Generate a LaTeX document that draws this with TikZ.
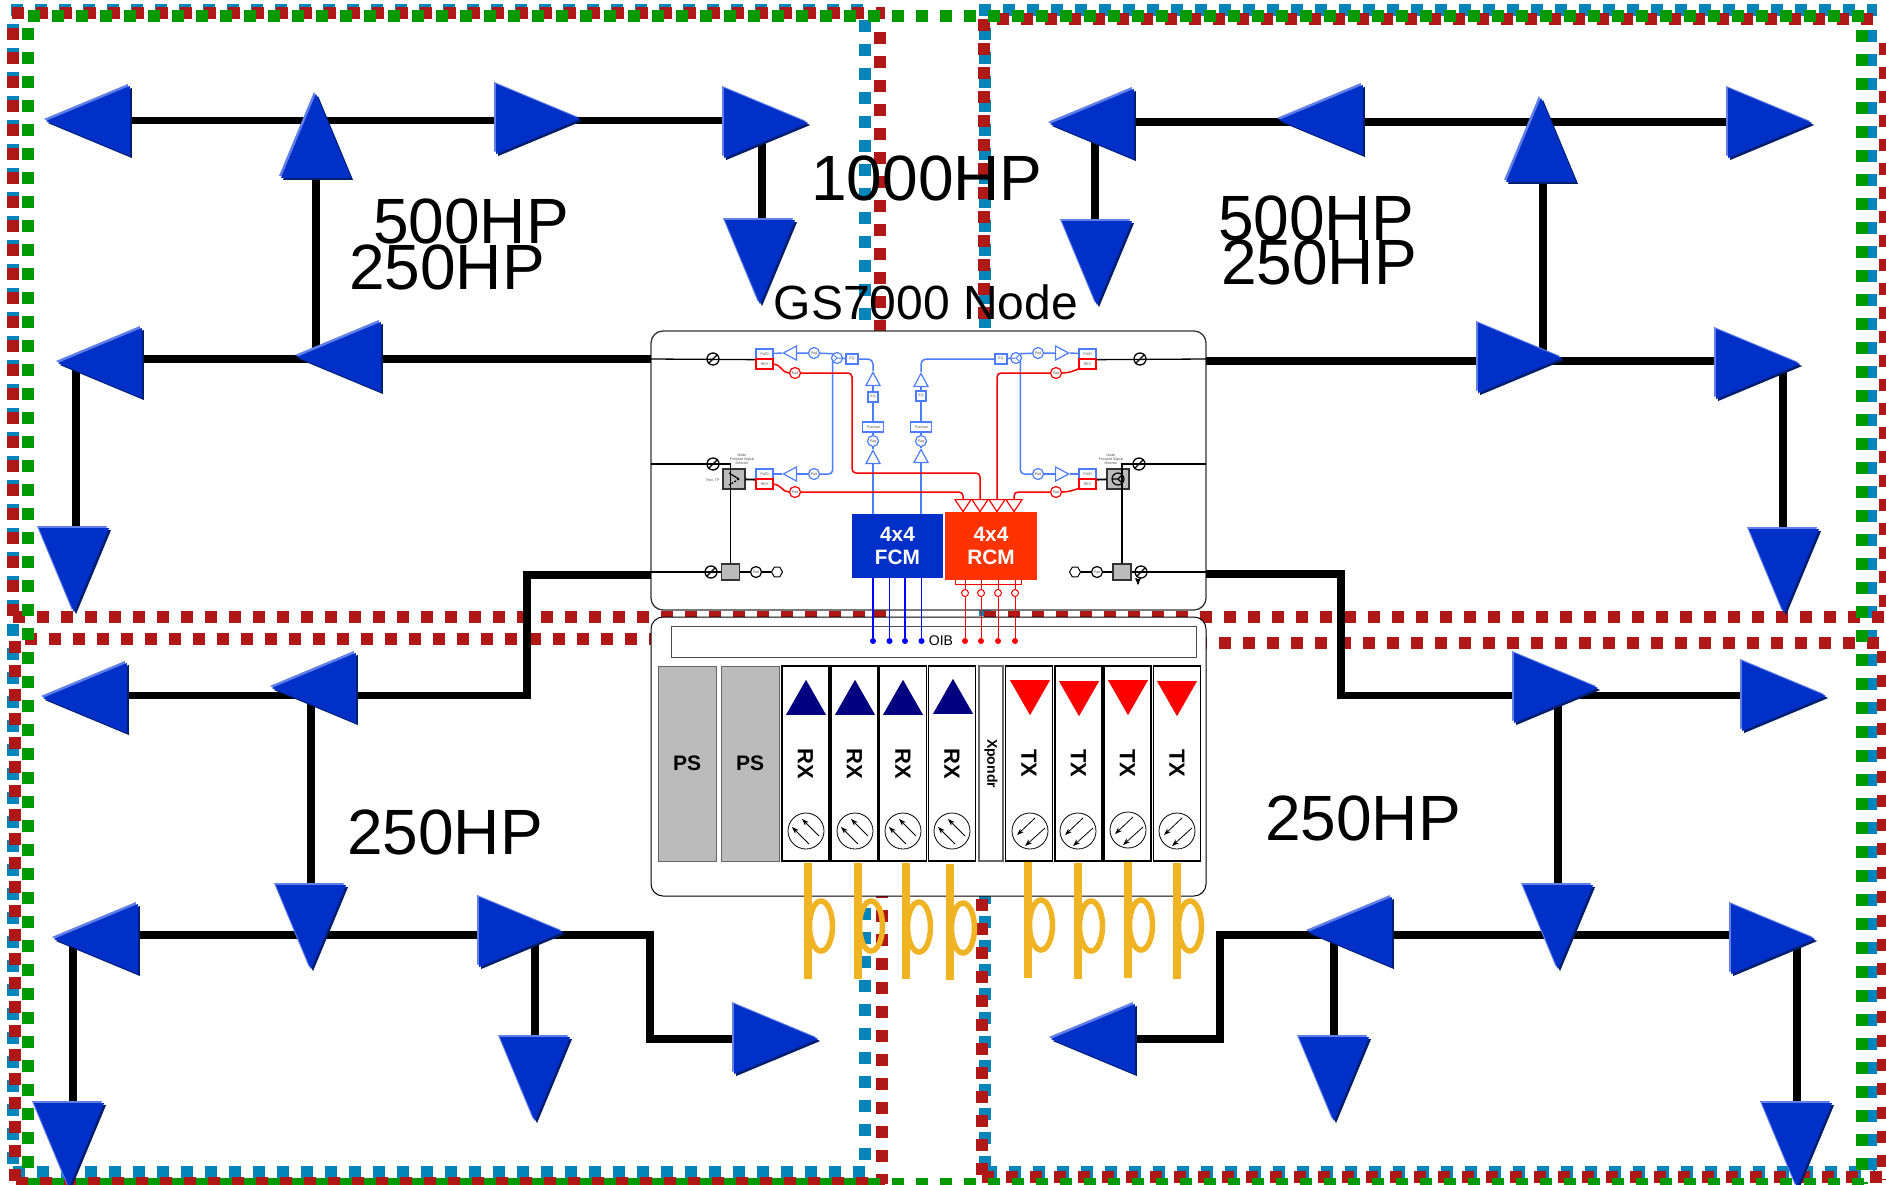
\documentclass[tikz,border=0pt]{standalone}
\usepackage{xcolor}
\usepackage{fontspec}
\setmainfont{Liberation Sans}
\usetikzlibrary{arrows,arrows.meta,shapes.geometric,shadows}
\definecolor{ampblue}{RGB}{0,48,200}
\definecolor{amplight}{RGB}{96,128,232}
\definecolor{ampdark}{RGB}{0,30,110}
\definecolor{dashred}{RGB}{176,24,24}
\definecolor{dashblue}{RGB}{0,133,186}
\definecolor{dashgreen}{RGB}{0,153,0}
\definecolor{wireblue}{RGB}{77,125,255}
\definecolor{rcmred}{RGB}{255,51,0}
\definecolor{cardgray}{RGB}{187,187,187}
\definecolor{coilgold}{RGB}{240,179,35}
\definecolor{navyband}{RGB}{0,0,128}
\pgfdeclarelayer{background}
\pgfdeclarelayer{wires}
\pgfsetlayers{background,wires,main}

\begin{document}
\begin{tikzpicture}[x=1pt,y=-1pt,>=stealth',
  redrow/.style={draw=dashred,line width=12pt,dash pattern=on 12pt off 12pt},
  bluerow/.style={draw=dashblue,line width=12pt,dash pattern=on 12pt off 12pt},
  greenrow/.style={draw=dashgreen,line width=12pt,dash pattern=on 12pt off 12pt},
  trunk/.style={line width=7.5pt,black},
  bigamp/.style={isosceles triangle,isosceles triangle stretches,inner sep=0pt,anchor=lower side,
    minimum width=70pt,minimum height=84pt,fill=ampblue,shape border rotate=#1,
    general shadow={fill=ampdark,shadow xshift=2pt,shadow yshift=-2pt},
    general shadow={fill=amplight,shadow xshift=-2pt,shadow yshift=2pt}},
  bigtext/.style={font=\fontsize{64}{64}\selectfont,inner sep=0pt},
  chassis/.style={draw=black!80,fill=white,line width=1.3pt,rounded corners=12pt,minimum width=555pt,minimum height=279pt},
  awire/.style={black,line width=1.3pt},
  bwire/.style={wireblue,line width=1.5pt},
  rwire/.style={red,line width=1.5pt},
  smalltxt/.style={font=\fontsize{3.6}{4.2}\selectfont,text=black!70,inner sep=0pt},
  fwdbox/.style={smalltxt,draw=wireblue,fill=white,line width=1.3pt,minimum width=17pt,minimum height=10pt},
  revbox/.style={smalltxt,draw=red,fill=white,line width=1.3pt,minimum width=17pt,minimum height=10pt},
  eqbox/.style={fwdbox,minimum width=#1},
  pad/.style={smalltxt,circle,draw=wireblue,fill=white,line width=1.2pt,minimum size=11pt},
  redpad/.style={pad,draw=red},
  blackpad/.style={pad,draw=black},
  hexcap/.style={regular polygon,regular polygon sides=6,draw=black,fill=white,line width=1pt,inner sep=0pt,minimum size=11pt},
  plug/.style={circle,draw=black,line width=1.3pt,inner sep=0pt,minimum size=12pt,
    path picture={\draw[black,line width=1.3pt] (path picture bounding box.south west) -- (path picture bounding box.north east);}},
  tapl/.style={circle,draw=wireblue,fill=white,line width=1.2pt,inner sep=0pt,minimum size=11pt,
    path picture={\draw[wireblue,line width=1pt] (path picture bounding box.center) -- (path picture bounding box.east)
      (path picture bounding box.center) -- (path picture bounding box.north west)
      (path picture bounding box.center) -- (path picture bounding box.south west);}},
  tapr/.style={circle,draw=wireblue,fill=white,line width=1.2pt,inner sep=0pt,minimum size=11pt,
    path picture={\draw[wireblue,line width=1pt] (path picture bounding box.center) -- (path picture bounding box.west)
      (path picture bounding box.center) -- (path picture bounding box.north east)
      (path picture bounding box.center) -- (path picture bounding box.south east);}},
  tapblack/.style={circle,draw=black,line width=1.2pt,inner sep=0pt,minimum size=12pt,
    path picture={\draw[black,line width=1.1pt] (path picture bounding box.center) -- (path picture bounding box.west)
      (path picture bounding box.center) -- (path picture bounding box.north east)
      (path picture bounding box.center) -- (path picture bounding box.south east);}},
  tinyamp/.style={isosceles triangle,isosceles triangle stretches,inner sep=0pt,anchor=lower side,
    minimum width=14pt,minimum height=13pt,draw=wireblue,fill=white,line width=1.2pt,shape border rotate=#1},
  redamp/.style={tinyamp=#1,draw=red,minimum width=16pt,minimum height=12pt},
  grayfill/.style={draw=black!80,fill=cardgray,line width=1.2pt,inner sep=0pt},
  switchbox/.style={grayfill,
    path picture={\draw[black,line width=1.2pt] ([shift={(-5,-6)}]path picture bounding box.center) -- ([shift={(5,0)}]path picture bounding box.center);
      \draw[black,line width=1.2pt,dashed,dash pattern=on 2pt off 1.5pt] ([shift={(5,0)}]path picture bounding box.center) -- ([shift={(-5,6)}]path picture bounding box.center);}},
  module/.style={font=\fontsize{20.8}{23}\selectfont\bfseries,text=white,align=center,inner sep=0pt},
  oibdot/.style={circle,inner sep=0pt,minimum size=6pt,fill=#1},
  redring/.style={circle,draw=red,fill=white,line width=1pt,inner sep=0pt,minimum size=7pt},
  psbox/.style={draw=black!60,fill=cardgray,line width=1pt,minimum width=58pt,minimum height=195pt,
    font=\fontsize{21}{21}\selectfont\bfseries,inner sep=0pt},
  card/.style={draw=black,fill=white,line width=1.2pt,rotate=-90,minimum width=195pt,minimum height=47pt,
    font=\fontsize{22}{22}\selectfont\bfseries,inner sep=0pt},
  band/.style={isosceles triangle,isosceles triangle stretches,inner sep=0pt,anchor=lower side,
    minimum width=40pt,minimum height=35pt,shape border rotate=#1},
  dialrx/.style={circle,draw=black,fill=white,line width=0.8pt,inner sep=0pt,minimum size=36pt,
    path picture={\draw[-{Stealth[length=7pt,width=5pt]},black,line width=0.8pt] ([shift={(3,13)}]path picture bounding box.center) -- ([shift={(-14,-4)}]path picture bounding box.center);
      \draw[-{Stealth[length=7pt,width=5pt]},black,line width=0.8pt] ([shift={(13,5)}]path picture bounding box.center) -- ([shift={(-4,-12)}]path picture bounding box.center);}},
  dialtx/.style={circle,draw=black,fill=white,line width=0.8pt,inner sep=0pt,minimum size=36pt,
    path picture={\draw[-{Stealth[length=7pt,width=5pt]},black,line width=0.8pt] ([shift={(5,-13)}]path picture bounding box.center) -- ([shift={(-13,4)}]path picture bounding box.center);
      \draw[-{Stealth[length=7pt,width=5pt]},black,line width=0.8pt] ([shift={(15,-3)}]path picture bounding box.center) -- ([shift={(-5,15)}]path picture bounding box.center);}},
  coil/.style={draw=coilgold,line width=8pt},
  coilring/.style={draw=coilgold,line width=5.5pt}]
  \useasboundingbox (0,0) rectangle (1886,1184);

  % square dashes, left half
  \begin{pgfonlayer}{background}
  \draw[bluerow] (13,24) -- (13,1170);
  \draw[bluerow] (11,10) -- (870,10);
  \draw[bluerow] (865,20) -- (865,1170);
  \draw[bluerow] (13,1172) -- (870,1172);
  % right half
  \draw[bluerow] (985,28) -- (985,1170);
  \draw[bluerow] (979,10) -- (1877,10);
  \draw[bluerow] (1871,30) -- (1871,1170);
  \draw[bluerow] (985,1172) -- (1875,1172);
  \draw[redrow] (13,28) -- (13,617);
  \draw[redrow] (12,13) -- (885,13);
  \draw[redrow] (880,32) -- (880,617);
  \draw[redrow] (13,617) -- (885,617);
  \draw[redrow] (25,639) -- (885,639);
  \draw[redrow] (15,641) -- (15,1184);
  \draw[redrow] (882,646) -- (882,1184);
  \draw[redrow] (984,19) -- (984,617);
  \draw[redrow] (997,19) -- (1875,19);
  \draw[redrow] (1885,43) -- (1885,617);
  \draw[redrow] (984,617) -- (1884,617);
  \draw[redrow] (979,643) -- (1880,643);
  \draw[redrow] (982,659) -- (982,1180);
  \draw[redrow] (1883,651) -- (1883,1180);
  \draw[redrow] (982,1177) -- (1882,1177);
  \draw[greenrow] (28,16) -- (1868,16);
  \draw[greenrow] (28,28) -- (28,1184);
  \draw[greenrow] (1862,30) -- (1862,1184);
  \draw[greenrow] (28,1184) -- (1868,1184);
  \draw[redrow] (16,1183) -- (885,1183);

  \node[chassis] (gsUpper) at (928.5,470.5) {};
  \node[chassis,draw=black,line width=1pt] (gsLower) at (928.5,756.5) {};
  \node[draw=black!70,fill=white,line width=1pt,minimum width=525pt,minimum height=31pt,inner sep=0pt] (oib) at (933.5,641.5) {};
  \node[switchbox,minimum width=22pt,minimum height=20pt] (swA) at (734,479) {};
  \node[grayfill,minimum width=22pt,minimum height=20pt] (swB) at (1118,479) {};
  \end{pgfonlayer}

  % amplifiers of the four areas
  \node[bigamp=180] (A1) at (130,121) {};
  \node[bigamp=90]  (A2) at (316,178) {};
  \node[bigamp=0]   (A3) at (496,119) {};
  \node[bigamp=0]   (A4) at (724,123) {};
  \node[bigamp=270] (A5) at (760,220) {};
  \node[bigamp=180] (A6) at (381,357) {};
  \node[bigamp=180] (A7) at (142,363) {};
  \node[bigamp=270] (A8) at (74,528) {};

  \node[bigamp=180] (B1) at (1134,124) {};
  \node[bigamp=180] (B2) at (1363,120) {};
  \node[bigamp=90]  (B3) at (1541,182) {};
  \node[bigamp=0]   (B4) at (1728,123) {};
  \node[bigamp=270] (B5) at (1097,221) {};
  \node[bigamp=0]   (B6) at (1478,358) {};
  \node[bigamp=0]   (B7) at (1716,364) {};
  \node[bigamp=270] (B8) at (1784,529) {};

  \node[bigamp=180] (C1) at (127,698) {};
  \node[bigamp=180] (C2) at (356,688) {};
  \node[bigamp=270] (C3) at (311,885) {};
  \node[bigamp=180] (C4) at (138,939) {};
  \node[bigamp=0]   (C5) at (479,932) {};
  \node[bigamp=0]   (C6) at (734,1039) {};
  \node[bigamp=270] (C7) at (535,1037) {};
  \node[bigamp=270] (C8) at (69,1103) {};

  \node[bigamp=0]   (D1) at (1514,688) {};
  \node[bigamp=0]   (D2) at (1742,696) {};
  \node[bigamp=270] (D3) at (1558,885) {};
  \node[bigamp=180] (D4) at (1392,932) {};
  \node[bigamp=0]   (D5) at (1731,939) {};
  \node[bigamp=180] (D6) at (1135,1039) {};
  \node[bigamp=270] (D7) at (1334,1037) {};
  \node[bigamp=270] (D8) at (1797,1103) {};

  \node[bigtext] (hpTall) at (927,178) {1000HP};
  \node[bigtext] (hpA) at (471,221) {500HP};
  \node[bigtext] (hpB) at (447,267) {250HP};
  \node[bigtext] (hpC) at (1316,218) {500HP};
  \node[bigtext] (hpD) at (1319,262) {250HP};
  \node[bigtext] (hpE) at (445,832) {250HP};
  \node[bigtext] (hpF) at (1363,818) {250HP};
  \node[font=\fontsize{48}{48}\selectfont,inner sep=0pt] (gsName) at (926,302) {GS7000 Node};

  % junction points on the trunks
  \coordinate (stubNW) at (651,359);
  \coordinate (stubNE) at (1206,361);
  \coordinate (stubSW) at (651,575);
  \coordinate (stubSE) at (1206,574);
  \coordinate (railA) at (400,120.5);
  \coordinate (railB) at (1400,122);
  \coordinate (railC) at (527,695.5);
  \coordinate (railD) at (1341,695.5);
  \coordinate (railE) at (650,935);
  \coordinate (railF) at (1220,935);

  % forward and return modules
  \node[module,fill=ampblue,minimum width=91pt,minimum height=64pt] (fcm) at (897.5,546) {4x4\\FCM};
  \node[module,fill=rcmred,minimum width=92pt,minimum height=68pt] (rcm) at (991,546) {4x4\\RCM};

  \node[fwdbox] (fwdA) at (764.5,354) {FWD};
  \node[revbox] (revA) at (764.5,364) {REV};
  \node[fwdbox] (fwdB) at (764.5,474) {FWD};
  \node[revbox] (revB) at (764.5,484) {REV};
  \node[fwdbox] (fwdC) at (1087.5,354) {FWD};
  \node[revbox] (revC) at (1087.5,364) {REV};
  \node[fwdbox] (fwdD) at (1087.5,474) {FWD};
  \node[revbox] (revD) at (1087.5,484) {REV};

  \node[tinyamp=180] (triA) at (797,353) {};
  \node[tinyamp=180] (triB) at (797,474) {};
  \node[tinyamp=0]   (triG) at (1055,353) {};
  \node[tinyamp=0]   (triH) at (1055,474) {};
  \node[pad] (padA) at (814,353) {Pad};
  \node[pad] (padB) at (814,474) {Pad};
  \node[pad] (padC) at (1038,353) {Pad};
  \node[pad] (padD) at (1038,474) {Pad};
  \node[redpad] (padRa) at (795,373) {Pad};
  \node[redpad] (padRb) at (795,492) {Pad};
  \node[redpad] (padRc) at (1056,373) {Pad};
  \node[redpad] (padRd) at (1056,492) {Pad};
  \node[tapl] (tapA) at (837,358) {};
  \node[tapr] (tapC) at (1016,358) {};
  \node[tapblack] (tapE) at (1118,479) {};
  \node[eqbox=12pt] (eqA) at (852,359) {EQ};
  \node[eqbox=12pt] (eqD) at (1001,359) {EQ};

  \node[tinyamp=90] (triC) at (873,386) {};
  \node[eqbox=10pt] (eqB) at (873,397) {EQ};
  \node[eqbox=21pt] (thermA) at (873,427) {Thermal};
  \node[pad] (padT) at (873,441) {Pad};
  \node[tinyamp=90] (triD) at (873,464) {};
  \node[tinyamp=90] (triF) at (921,387) {};
  \node[eqbox=10pt] (eqC) at (921,396) {EQ};
  \node[eqbox=21pt] (thermB) at (921,427) {Thermal};
  \node[pad] (padU) at (921,441) {Pad};
  \node[tinyamp=90] (triE) at (921,463) {};

  \node[redamp=270] (triR1) at (963,499) {};
  \node[redamp=270] (triR2) at (980,499) {};
  \node[redamp=270] (triR3) at (997,499) {};
  \node[redamp=270] (triR4) at (1014,499) {};

  \coordinate (sideAa) at (651,464);
  \coordinate (sideAb) at (651,572);
  \coordinate (sideBa) at (1206,464);
  \coordinate (sideBb) at (1206,572);
  \coordinate (sideBc) at (1206,359);
  \coordinate (sideAc) at (651,359);
  \node[plug] (plugA) at (713,359) {};
  \node[plug] (plugB) at (713,464) {};
  \node[plug] (plugC) at (711,572) {};
  \node[plug] (plugD) at (1140,359) {};
  \node[plug] (plugE) at (1139,464) {};
  \node[plug] (plugF) at (1141,572) {};
  \node[grayfill,minimum width=18pt,minimum height=16pt] (smallA) at (730.5,572) {};
  \node[grayfill,minimum width=18pt,minimum height=16pt] (smallB) at (1122,572) {};
  \node[blackpad] (padE) at (756,572) {Pad};
  \node[blackpad] (padF) at (1097,572) {Pad};
  \node[hexcap] (hexA) at (777,572) {};
  \node[hexcap] (hexB) at (1075,572) {};
  \node[smalltxt,align=center] (dirA) at (742,459) {Node\\Forward Signal\\Director};
  \node[smalltxt,align=center] (dirB) at (1111,459) {Node\\Forward Signal\\Director};
  \node[smalltxt] (revTP) at (713,480) {Rev. TP};

  % OIB and cards
  \node[font=\fontsize{14}{14}\selectfont,inner sep=0pt] (oibName) at (941,641) {OIB};
  \node[oibdot=blue] (dotB1) at (873,641) {};
  \node[oibdot=blue] (dotB2) at (889.5,641) {};
  \node[oibdot=blue] (dotB3) at (905,641) {};
  \node[oibdot=blue] (dotB4) at (921.5,641) {};
  \node[oibdot=red] (dotR1) at (965,641) {};
  \node[oibdot=red] (dotR2) at (981,641) {};
  \node[oibdot=red] (dotR3) at (998,641) {};
  \node[oibdot=red] (dotR4) at (1015,641) {};
  \node[redring] (ringR1) at (965,593) {};
  \node[redring] (ringR2) at (981,593) {};
  \node[redring] (ringR3) at (998,593) {};
  \node[redring] (ringR4) at (1015,593) {};
  \coordinate (busL) at (955,584);
  \coordinate (busR) at (1021,584);

  \node[psbox] (psA) at (687,763.5) {PS};
  \node[psbox] (psB) at (750,763.5) {PS};
  \node[card] (rxA) at (805.5,763.5) {RX};
  \node[card] (rxB) at (854.5,763.5) {RX};
  \node[card] (rxC) at (903,763.5) {RX};
  \node[card] (rxD) at (952,763.5) {RX};
  \node[card,draw=black!60,minimum height=24pt,font=\fontsize{14}{14}\selectfont\bfseries] (xpondr) at (991,763.5) {Xpondr};
  \node[card] (txA) at (1029,763.5) {TX};
  \node[card] (txB) at (1078.5,763.5) {TX};
  \node[card] (txC) at (1127.5,763.5) {TX};
  \node[card] (txD) at (1177,763.5) {TX};

  \node[band=90,fill=navyband] (bandA) at (806,715) {};
  \node[band=90,fill=navyband] (bandB) at (855,715) {};
  \node[band=90,fill=navyband] (bandC) at (903,715) {};
  \node[band=90,fill=navyband] (bandD) at (953,714) {};
  \node[band=270,fill=red] (bandE) at (1030,680) {};
  \node[band=270,fill=red] (bandF) at (1079,681) {};
  \node[band=270,fill=red] (bandG) at (1128,680) {};
  \node[band=270,fill=red] (bandH) at (1177,681) {};

  \node[dialrx] (dialA) at (806,831) {};
  \node[dialrx] (dialB) at (855,831) {};
  \node[dialrx] (dialC) at (903,831) {};
  \node[dialrx] (dialD) at (952,831) {};
  \node[dialtx] (dialE) at (1030,831) {};
  \node[dialtx] (dialF) at (1078,831) {};
  \node[dialtx] (dialG) at (1128,830) {};
  \node[dialtx] (dialH) at (1177,831) {};

  \draw[coil] (808,863) -- (808,979);
  \draw[coil] (858,863) -- (858,979);
  \draw[coil] (906,863) -- (906,979);
  \draw[coil] (950,864) -- (950,980);
  \draw[coil] (1028,862) -- (1028,978);
  \draw[coil] (1078,863) -- (1078,979);
  \draw[coil] (1128,862) -- (1128,978);
  \draw[coil] (1177,863) -- (1177,979);
  \draw[coilring] (821,926) ellipse [x radius=11.5,y radius=25];
  \draw[coilring] (871,926) ellipse [x radius=11.5,y radius=25];
  \draw[coilring] (919,927) ellipse [x radius=11.5,y radius=25];
  \draw[coilring] (963,928) ellipse [x radius=11.5,y radius=25];
  \draw[coilring] (1041,925) ellipse [x radius=11.5,y radius=25];
  \draw[coilring] (1091,926) ellipse [x radius=11.5,y radius=25];
  \draw[coilring] (1141,925) ellipse [x radius=11.5,y radius=25];
  \draw[coilring] (1190,926) ellipse [x radius=11.5,y radius=25];

  \begin{pgfonlayer}{wires}
  % trunks
  \draw[trunk] (A1.lower side |- railA) -- (A4.lower side |- railA);
  \draw[trunk] (A2.lower side) -- (A2.lower side |- stubNW);
  \draw[trunk] ([xshift=2pt]A5.lower side) -- ([xshift=2pt]A5.lower side |- railA);
  \draw[trunk] (stubNW) -- (stubNW -| A7.lower side);
  \draw[trunk] ([xshift=2pt]A8.lower side) -- ([xshift=2pt]A8.lower side |- stubNW);

  \draw[trunk] (B1.lower side |- railB) -- (B4.lower side |- railB);
  \draw[trunk] ([xshift=-2pt]B5.lower side) -- ([xshift=-2pt]B5.lower side |- railB);
  \draw[trunk] ([xshift=2pt]B3.lower side) -- ([xshift=2pt]B3.lower side |- stubNE);
  \draw[trunk] (stubNE) -- (stubNE -| B7.lower side);
  \draw[trunk] ([xshift=-1pt]B8.lower side) -- ([xshift=-1pt]B8.lower side |- stubNE);

  \draw[trunk] (stubSW) -| (railC) -- (railC -| C1.lower side);
  \draw[trunk] (C3.lower side) -- (C3.lower side |- railC);
  \draw[trunk] (C4.lower side |- railE) -- (railE) |- (C6.lower side);
  \draw[trunk] (C7.lower side) -- (C7.lower side |- railE);
  \draw[trunk] ([xshift=4pt]C8.lower side) -- ([xshift=4pt]C8.lower side |- railE);

  \draw[trunk] (stubSE) -| (railD) -- (railD -| D2.lower side);
  \draw[trunk] (D3.lower side) -- (D3.lower side |- railD);
  \draw[trunk] (D5.lower side |- railF) -- (railF) |- (D6.lower side);
  \draw[trunk] (D7.lower side) -- (D7.lower side |- railF);
  \draw[trunk] (D8.lower side) -- (D8.lower side |- railF);

  % forward path
  \draw[bwire] (fwdA) -- (triA.apex) (triA.lower side) -- (padA) (padA) -- (tapA.north west);
  \draw[bwire] (fwdB) -- (triB.apex) (triB.lower side) -- (padB);
  \draw[bwire,rounded corners=4pt] (tapA.north west) |- (padB);
  \draw[bwire] (tapA) -- (eqA);
  \draw[bwire,rounded corners=5pt] (eqA) -| (triC.apex);
  \draw[bwire] (triC.lower side) -- (eqB) (eqB) -- (thermA) (thermA) -- (padT) (padT) -- (triD.apex);
  \draw[bwire] (triD.lower side) -- (triD.lower side |- fcm.north);
  \draw[bwire] (fwdC) -- (triG.apex) (triG.lower side) -- (padC) (padC) -- (tapC.north east);
  \draw[bwire] (fwdD) -- (triH.apex) (triH.lower side) -- (padD);
  \draw[bwire,rounded corners=4pt] (tapC.north east) |- (padD);
  \draw[bwire] (tapC) -- (eqD);
  \draw[bwire,rounded corners=5pt] (eqD) -| (triF.apex);
  \draw[bwire] (triF.lower side) -- (eqC) (eqC) -- (thermB) (thermB) -- (padU) (padU) -- (triE.apex);
  \draw[bwire] (triE.lower side) -- (triE.lower side |- fcm.north);

  % return path
  \coordinate (kneeRa) at (852,473);
  \draw[rwire] (revA.east) to[out=0,in=180] (padRa);
  \draw[rwire] (revB.east) to[out=0,in=180] (padRb);
  \draw[rwire] (revC.east) to[out=180,in=0] (padRc);
  \draw[rwire] (revD.east) to[out=180,in=0] (padRd);
  \draw[rwire,rounded corners=4pt] (padRa) -| (kneeRa) -| (triR2.lower side);
  \draw[rwire,rounded corners=4pt] (padRb) -| (triR1.lower side);
  \draw[rwire,rounded corners=4pt] (padRc) -| (triR3.lower side);
  \draw[rwire,rounded corners=4pt] (padRd) -| (triR4.lower side);

  % coax side
  \draw[awire] (sideAc) -- (fwdA.south west);
  \draw[awire] (sideBc) -- (fwdC.south east);
  \draw[awire] (sideAa) -| (smallA.north);
  \draw[awire] (sideBa) -| (smallB.north);
  \draw[awire,line width=1.8pt] (swA) -- (fwdB.south west);
  \draw[awire,line width=1.8pt] (swB) -- (fwdD.south east);
  \draw[awire] (sideAb) -- (smallA) (smallA) -- (padE) (padE) -- (hexA);
  \draw[awire] (sideBb) -- (smallB) (smallB) -- (padF) (padF) -- (hexB);
  \draw[awire,->] ([xshift=-3pt]plugF.south) -- ++(0,6);

  % modules to OIB
  \draw[blue,line width=1.3pt] (dotB1 |- fcm.south) -- (dotB1);
  \draw[blue,line width=1.3pt] (dotB2 |- fcm.south) -- (dotB2);
  \draw[blue,line width=1.3pt] (dotB3 |- fcm.south) -- (dotB3);
  \draw[blue,line width=1.3pt] (dotB4 |- fcm.south) -- (dotB4);
  \draw[rwire,line width=1pt] (dotR1 |- rcm.south) -- (dotR1);
  \draw[rwire,line width=1pt] (dotR2 |- rcm.south) -- (dotR2);
  \draw[rwire,line width=1pt] (dotR3 |- rcm.south) -- (dotR3);
  \draw[rwire,line width=1pt] (dotR4 |- rcm.south) -- (dotR4);
  \draw[rwire,line width=1pt] (busL |- rcm.south) |- (busR) -- (busR |- rcm.south);
  \end{pgfonlayer}
\end{tikzpicture}
\end{document}
